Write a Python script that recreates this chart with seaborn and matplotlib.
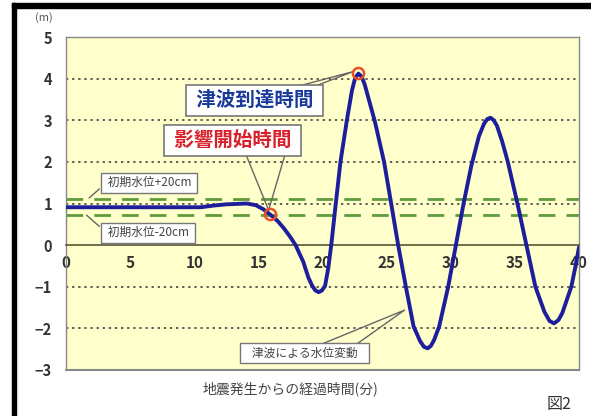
import matplotlib
matplotlib.use("Agg")
import matplotlib.pyplot as plt
import matplotlib.patches as mpatches
from matplotlib.ticker import MultipleLocator
import seaborn as sns

################# Data #################

# elapsed time since the earthquake (min) and water level (m)
minutes = [0, 5, 10.5, 11.5, 12.5, 13.3, 14.1, 14.8, 15.4, 15.9, 16.5, 17.0, 17.5, 17.9,
           18.5, 18.9, 19.2, 19.45, 19.7, 19.95, 20.2, 20.45, 20.7, 21.0, 21.4, 21.9,
           22.3, 22.55, 22.8, 23.05, 23.3, 23.7, 24.1, 24.8, 25.3, 25.9, 26.5, 27.1,
           27.6, 27.9, 28.2, 28.45, 28.7, 29.1, 29.8, 30.4, 31.0, 31.6, 32.2, 32.6,
           32.85, 33.1, 33.35, 33.6, 34.0, 34.45, 35.2, 35.9, 36.6, 37.3, 37.7, 38.05,
           38.4, 38.7, 39.4, 39.7, 40]
level = [0.91, 0.91, 0.91, 0.95, 0.98, 0.99, 1.0, 0.96, 0.86, 0.74, 0.58, 0.4, 0.19, 0.0,
         -0.4, -0.78, -0.98, -1.09, -1.13, -1.09, -0.98, -0.55, 0.05, 0.9, 2.0, 3.0,
         3.72, 4.02, 4.12, 4.05, 3.85, 3.4, 2.95, 2.0, 1.1, 0.0, -1.0, -1.95,
         -2.3, -2.44, -2.48, -2.42, -2.28, -1.95, -1.0, 0.0, 1.0, 1.9, 2.62, 2.92,
         3.03, 3.06, 3.0, 2.87, 2.5, 2.0, 1.0, 0.0, -1.0, -1.6, -1.82, -1.88,
         -1.8, -1.63, -1.0, -0.55, -0.05]

initial_level = 0.92
band = [initial_level + 0.2, initial_level - 0.2]

# marked points: impact start, tsunami arrival
mark_t = [15.9, 22.8]
mark_v = [0.74, 4.13]

x_ticks = [0, 5, 10, 15, 20, 25, 30, 35, 40]
y_ticks = [-3, -2, -1, 0, 1, 2, 3, 4, 5]

################# Plot #################

sns.set_style("white")
plt.rcParams['font.family'] = ['Noto Sans CJK JP', 'DejaVu Sans']

fig = plt.figure(figsize=(5.91, 4.16), dpi=100)
ax = fig.add_axes([66/591, 46/416, 513/591, 333/416])
ax.set_facecolor("#FFFFCC")

# dotted grid
for v in [4, 3, 2, 1, -1, -2]:
    ax.axhline(v, color="#333333", linestyle=(0, (1.5, 2.5)), linewidth=1.1, zorder=1)

# +-20cm band
for v in band:
    ax.axhline(v, color="#5E9A3C", linestyle=(0, (6, 4)), linewidth=2, zorder=2)

sns.lineplot(x=minutes, y=level, ax=ax, color="#1E1E9C", linewidth=2.8, zorder=4)
ax.plot(mark_t, mark_v, linestyle="none", marker="o", markersize=8,
        markerfacecolor="none", markeredgecolor="#E8502A", markeredgewidth=1.8, zorder=5)

ax.set_xlim(0, 40)
ax.set_ylim(-3, 5)
ax.set_xticks(x_ticks)
ax.set_yticks(y_ticks)
ax.xaxis.set_minor_locator(MultipleLocator(1))
ax.yaxis.set_minor_locator(MultipleLocator(0.5))

# x axis sits on the zero line
ax.spines['bottom'].set_position(('data', 0))
ax.spines['bottom'].set_color("#555533")
ax.spines['bottom'].set_linewidth(1.2)
for s in ['left', 'right', 'top']:
    ax.spines[s].set_color("#888888")
    ax.spines[s].set_linewidth(1)
ax.axhline(-3, color="#888888", linewidth=1.5, clip_on=False, zorder=3)

ax.tick_params(axis='x', which='major', direction='inout', length=8, width=1.3,
               color="#333322", pad=3, labelsize=11, labelcolor="#333333")
ax.tick_params(axis='x', which='minor', direction='inout', length=6, width=1,
               color="#555533")
ax.tick_params(axis='y', which='major', direction='out', length=3, width=1,
               color="#888888", pad=7, labelsize=10.5, labelcolor="#333333")
ax.tick_params(axis='y', which='minor', direction='out', length=2, width=1,
               color="#999999")
for lab in ax.get_xticklabels() + ax.get_yticklabels():
    lab.set_fontweight('bold')

ax.set_xlabel("")
ax.set_ylabel("")

# callouts
box = dict(boxstyle="square,pad=0.3", facecolor="white", edgecolor="#777777", linewidth=1.2)
small_box = dict(boxstyle="square,pad=0.3", facecolor="white", edgecolor="#777777", linewidth=1)
lc = "#666666"

ax.plot([17.5, 22.4, 19.0], [3.77, 4.17, 3.77], color=lc, linewidth=1, zorder=3)
ax.text(14.7, 3.47, " 津波到達時間 ", ha="center", va="center", fontsize=14,
        fontweight="bold", color="#1A3A9A", bbox=box, zorder=6)

ax.plot([14.0, 15.8, 17.1], [2.2, 0.84, 2.2], color=lc, linewidth=1, zorder=3)
ax.text(13.0, 2.52, " 影響開始時間 ", ha="center", va="center", fontsize=14,
        fontweight="bold", color="#D8202A", bbox=box, zorder=6)

ax.plot([2.6, 1.8], [1.35, 1.13], color=lc, linewidth=1, zorder=3)
ax.text(6.5, 1.5, " 初期水位+20cm ", ha="center", va="center", fontsize=8.5,
        color="#444444", bbox=small_box, zorder=6)

ax.plot([2.6, 1.6], [0.45, 0.72], color=lc, linewidth=1, zorder=3)
ax.text(6.4, 0.3, " 初期水位-20cm ", ha="center", va="center", fontsize=8.5,
        color="#444444", bbox=small_box, zorder=6)

ax.plot([20.0, 26.4, 22.7], [-2.37, -1.56, -2.37], color=lc, linewidth=1, zorder=3)
ax.text(18.6, -2.6, "   津波による水位変動   ", ha="center", va="center", fontsize=8.5,
        color="#444444", bbox=small_box, zorder=6)

# labels around the plot
fig.text(44/591, 1 - 18/416, "(m)", ha="center", va="center", fontsize=8, color="#555555")
fig.text(290/591, 1 - 389/416, "地震発生からの経過時間(分)", ha="center", va="center",
         fontsize=10, color="#444444")
fig.text(547/591, 1 - 405/416, "図2", ha="left", va="center", fontsize=11.5, color="#333333")

# black frame on top and left
fig.patches.append(mpatches.Rectangle((12/591, 1 - 8/416), 579/591, 5/416,
                                      transform=fig.transFigure, color="black"))
fig.patches.append(mpatches.Rectangle((12/591, 0), 4/591, 1 - 3/416,
                                      transform=fig.transFigure, color="black"))

plt.savefig("out.png", dpi=100)
plt.close()
